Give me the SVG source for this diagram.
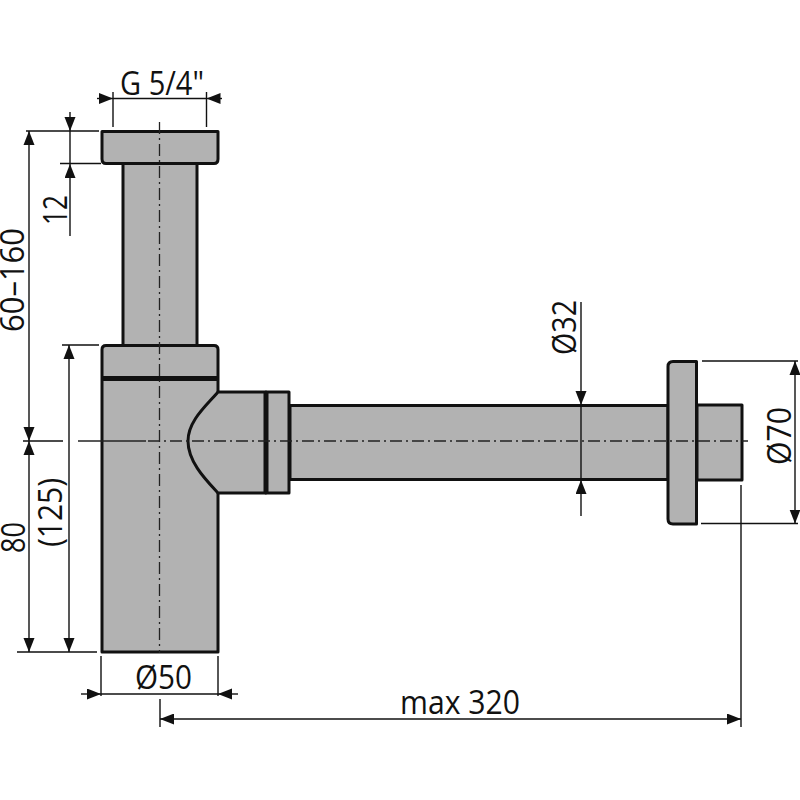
<svg xmlns="http://www.w3.org/2000/svg" width="800" height="800" viewBox="0 0 800 800">
<style>
.b{fill:#b2b2b2;stroke:#111;stroke-width:3;stroke-linejoin:round}
.d{fill:none;stroke:#111;stroke-width:1.4}
.o{fill:none;stroke:#111;stroke-width:1.4;marker-end:url(#e)}
.a{fill:none;stroke:#111;stroke-width:1.4;marker-start:url(#s);marker-end:url(#e)}
.c{fill:none;stroke:#222;stroke-width:1.3;stroke-dasharray:12 4 2 4}
text{font-family:"Open Sans","Liberation Sans",sans-serif;font-size:32px;fill:#111;text-anchor:middle}
</style>
<defs>
<marker id="e" markerUnits="userSpaceOnUse" markerWidth="16" markerHeight="12" refX="14" refY="5.500" orient="auto"><path d="M0 0L14 5.500L0 11Z" fill="#111"/></marker>
<marker id="s" markerUnits="userSpaceOnUse" markerWidth="16" markerHeight="12" refX="0" refY="5.500" orient="auto"><path d="M14 0L0 5.500L14 11Z" fill="#111"/></marker>
</defs>
<g id="trap">
<path class="b" d="M123 162H197V346H123Z"/>
<path class="b" d="M102 131.500H218V159Q218 163.500 214 163.500H106Q102 163.500 102 159Z"/>
<path class="b" d="M290 405.500H668V479.500H290Z"/>
<path class="b" d="M697 405H742V480H697Z"/>
<path class="b" d="M673 361.500H696.500V524H673Q668 524 668 519V366.500Q668 361.500 673 361.500Z"/>
<path class="b" d="M106 345.500H214Q218 345.500 218 349.500V652H102V349.500Q102 345.500 106 345.500Z"/>
<path d="M218 392H265V493H218C206 480 188 462 188 441C188 421 206 406 218 392Z" fill="#b2b2b2"/>
<path class="d" style="stroke-width:3" d="M218 392H265V493H218C206 480 188 462 188 441C188 421 206 406 218 392Z"/>
<path class="b" d="M266 392H289V493H266Z"/>
<path d="M264 391H268.500V494H264Z" fill="#111"/>
<path d="M102 376H218V381H102Z" fill="#111"/>
</g>
<g id="centerlines">
<path class="c" d="M159.500 122V653"/>
<path class="d" style="stroke:#222;stroke-width:1.3" d="M78 441H146"/>
<path class="c" d="M148 441H748"/>
</g>
<g id="dimensions">
<path class="d" d="M113 92V127M206.500 92V127M26 131H99M60 163.500H101M62 345H99M17 652H97M23 441H63M101 656V696M218 656V696M160 699V727M741 485V727M702 361H798M701 523.500H798"/>
<path class="o" d="M97 98.500H113"/><path class="o" d="M222 98.500H206.500"/>
<path class="d" d="M113 98.500H206.500"/>
<path class="o" d="M70 112V131"/><path class="o" d="M70 236V164"/>
<path class="d" d="M70 131V164"/>
<path class="a" d="M29 131V441"/>
<path class="a" d="M29 441V652"/>
<path class="a" d="M69 345V652"/>
<path class="o" d="M81 694H101"/><path class="o" d="M238 694H218"/>
<path class="d" d="M101 694H218"/>
<path class="a" d="M160 719H741"/>
<path class="o" d="M581 302V405"/><path class="o" d="M581 516V480"/>
<path class="d" d="M581 405V480"/>
<path class="a" d="M795 361V523.500"/>
</g>
<g id="labels">
<text x="162" y="95" textLength="84" lengthAdjust="spacingAndGlyphs">G 5/4"</text>
<text x="163.500" y="689" textLength="57" lengthAdjust="spacingAndGlyphs">Ø50</text>
<text x="460" y="714" textLength="120" lengthAdjust="spacingAndGlyphs">max 320</text>
<text transform="translate(67 210) rotate(-90)" textLength="30" lengthAdjust="spacingAndGlyphs">12</text>
<text transform="translate(24 280) rotate(-90)" textLength="104" lengthAdjust="spacingAndGlyphs">60–160</text>
<text transform="translate(25 537.500) rotate(-90)" textLength="31" lengthAdjust="spacingAndGlyphs">80</text>
<text transform="translate(62 512.500) rotate(-90)" textLength="69" lengthAdjust="spacingAndGlyphs">(125)</text>
<text transform="translate(576 327.500) rotate(-90)" textLength="55" lengthAdjust="spacingAndGlyphs">Ø32</text>
<text transform="translate(791 436) rotate(-90)" textLength="58" lengthAdjust="spacingAndGlyphs">Ø70</text>
</g>
</svg>
